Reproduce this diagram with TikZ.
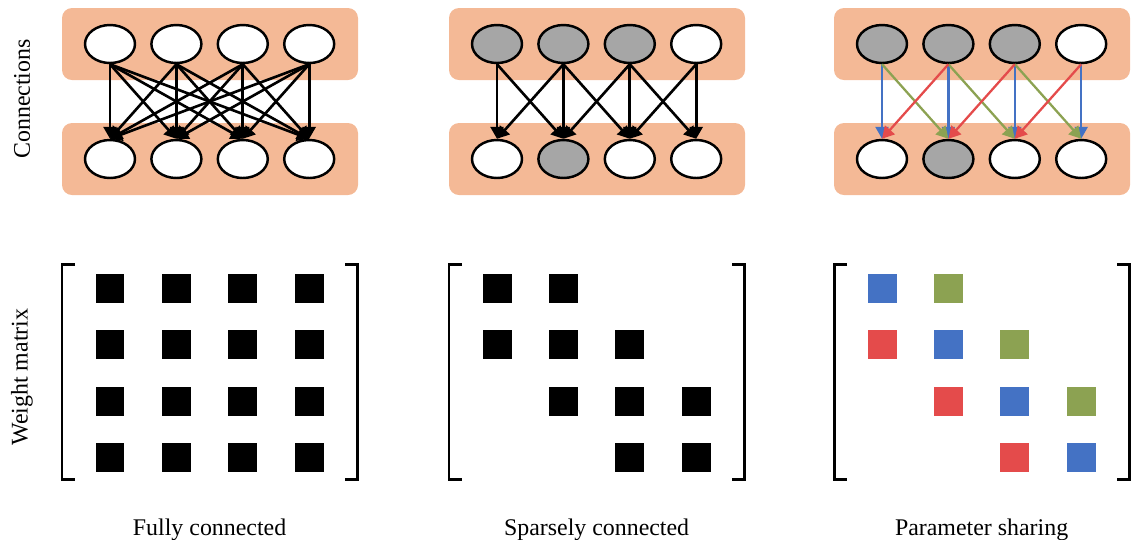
\documentclass[tikz,border=0pt]{standalone}
\usepackage{fontspec}
\setmainfont{Liberation Serif}
\usetikzlibrary{arrows.meta, shapes.geometric}

\definecolor{bandpeach}{HTML}{F4B996}
\definecolor{unitgray}{HTML}{A6A6A6}
\definecolor{shareblue}{HTML}{4472C4}
\definecolor{sharegreen}{HTML}{8CA252}
\definecolor{sharered}{HTML}{E44B4B}

\tikzset{%
  every unit/.style={
    ellipse,
    draw,
    line width=1.4pt,
    fill=white,
    minimum width=1cm,
    minimum height=0.76cm,
    inner sep=0pt
  },
  unit on/.style={
    fill=unitgray
  },
  layer band/.style={
    fill=bandpeach,
    rounded corners=0.2cm
  },
  link/.style={->, line width=1.5pt},
  weight/.style={
    minimum size=0.58cm,
    inner sep=0pt
  },
  bracket/.style={line width=1.7pt},
  caption/.style={font=\fontsize{13.6}{16}\selectfont},
}

\begin{document}
\begin{tikzpicture}[x=0.02cm, y=-0.02cm, >={Triangle[length=0.24cm, width=0.26cm]}]

    \useasboundingbox (0,0) rectangle (1133,539);

    % layer bands and weight brackets, one set per panel
    \foreach \ox in {110,497,882} {
      \fill [layer band] (\ox-48,8) rectangle (\ox+248,80);
      \fill [layer band] (\ox-48,123) rectangle (\ox+248,195);
      \draw [bracket] (\ox-35,264) -- (\ox-48,264) -- (\ox-48,479) -- (\ox-35,479);
      \draw [bracket] (\ox+235,264) -- (\ox+247.5,264) -- (\ox+247.5,479) -- (\ox+235,479);
    }

    % fully connected
    \foreach \m [count=\i] in {off,off,off,off}
      \node [every unit/.try, unit \m/.try] (full-top-\i) at ({110+(\i-1)*66.4},44) {};

    \foreach \m [count=\i] in {off,off,off,off}
      \node [every unit/.try, unit \m/.try] (full-bot-\i) at ({110+(\i-1)*66.4},159) {};

    \foreach \i in {1,...,4}
      \foreach \j in {1,...,4}
        \draw [link] (full-top-\i.south) -- (full-bot-\j.north);

    \foreach \i in {1,...,4}
      \foreach \j in {1,...,4}
        \node [weight, fill=black] (full-w-\i-\j) at ({110+(\j-1)*66.4},{288.5+(\i-1)*56.3}) {};

    % sparsely connected
    \foreach \m [count=\i] in {on,on,on,off}
      \node [every unit/.try, unit \m/.try] (sparse-top-\i) at ({497+(\i-1)*66.4},44) {};

    \foreach \m [count=\i] in {off,on,off,off}
      \node [every unit/.try, unit \m/.try] (sparse-bot-\i) at ({497+(\i-1)*66.4},159) {};

    \foreach \i/\j in {1/1,1/2,2/1,2/2,2/3,3/2,3/3,3/4,4/3,4/4} {
      \draw [link] (sparse-top-\i.south) -- (sparse-bot-\j.north);
      \node [weight, fill=black] (sparse-w-\i-\j) at ({497+(\j-1)*66.4},{288.5+(\i-1)*56.3}) {};
    }

    % parameter sharing
    \foreach \m [count=\i] in {on,on,on,off}
      \node [every unit/.try, unit \m/.try] (share-top-\i) at ({882+(\i-1)*66.4},44) {};

    \foreach \m [count=\i] in {off,on,off,off}
      \node [every unit/.try, unit \m/.try] (share-bot-\i) at ({882+(\i-1)*66.4},159) {};

    \foreach \i/\j/\c in {1/1/shareblue,2/2/shareblue,3/3/shareblue,4/4/shareblue,
                          1/2/sharegreen,2/3/sharegreen,3/4/sharegreen,
                          2/1/sharered,3/2/sharered,4/3/sharered} {
      \draw [link, line width=1.3pt, draw=\c, fill=\c] (share-top-\i.south) -- (share-bot-\j.north);
      \node [weight, fill=\c] (share-w-\i-\j) at ({882+(\j-1)*66.4},{288.5+(\i-1)*56.3}) {};
    }

    % row and column captions
    \node [caption, rotate=90] (conn-label) at (22,99) {Connections};
    \node [caption, rotate=90] (weight-label) at (22,377) {Weight matrix};

    \foreach \ox/\l in {110/Fully connected, 497/Sparsely connected, 882/Parameter sharing}
      \node [caption, anchor=base] (caption-\ox) at (\ox+99.6,535) {\l};

\end{tikzpicture}
\end{document}
